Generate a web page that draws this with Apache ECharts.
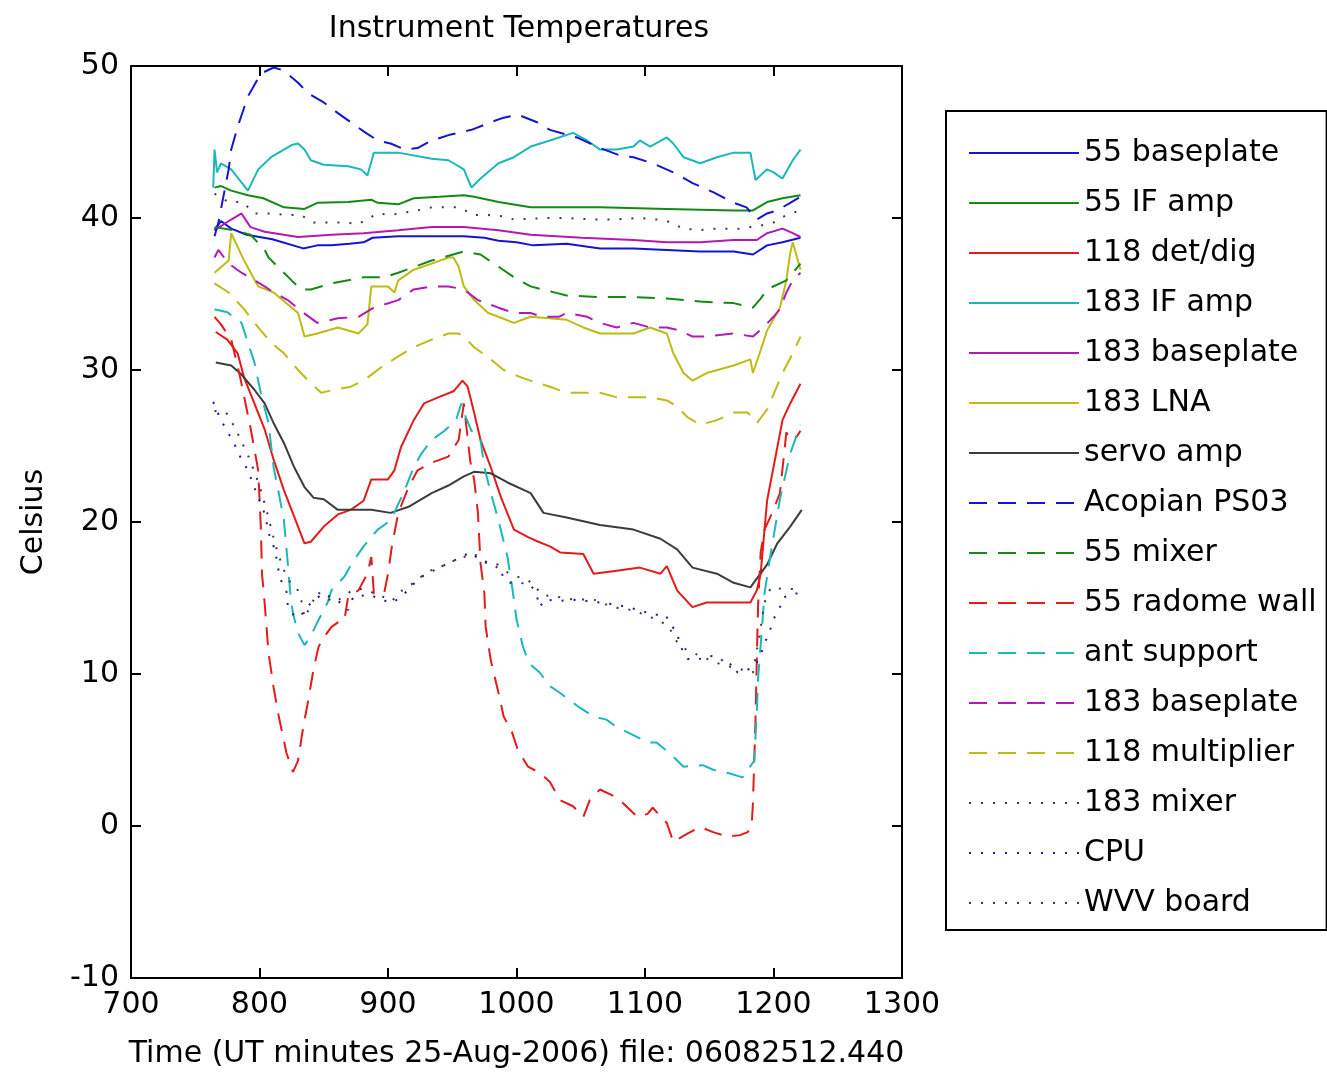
<!DOCTYPE html>
<html>
<head>
<meta charset="utf-8">
<title>Instrument Temperatures</title>
<script src="https://cdn.jsdelivr.net/npm/echarts@6/dist/echarts.min.js"></script>
<style>
  html, body { margin: 0; padding: 0; background: #fff; }
  #chart { width: 1327px; height: 1076px; }
</style>
</head>
<body>
<div id="chart"></div>
<script>
// Temperature logs, [UT minute, degrees C]
const baseplate55 = [[765,39.2],[770,39.8],[778,39.3],[790,38.9],[810,38.6],[834,38.0],[845,38.2],[856,38.2],[870,38.3],[881,38.4],[888,38.7],[908,38.8],[934,38.8],[959,38.8],[975,38.7],[986,38.5],[1000,38.4],[1013,38.2],[1039,38.3],[1065,38.0],[1091,38.0],[1117,37.9],[1143,37.8],[1169,37.8],[1184,37.6],[1195,38.2],[1207,38.4],[1221,38.7]];
const ifAmp55 = [[765,42.0],[770,42.1],[778,41.8],[791,41.5],[803,41.3],[819,40.7],[835,40.6],[845,41.0],[869,41.05],[887,41.2],[892,41.0],[908,40.9],[920,41.3],[940,41.4],[959,41.5],[967,41.4],[986,41.05],[1011,40.7],[1039,40.7],[1065,40.7],[1117,40.6],[1169,40.5],[1184,40.5],[1195,41.05],[1207,41.3],[1221,41.5]];
const detDig118 = [[766,32.5],[775,32.0],[783,31.1],[788,29.5],[796,27.8],[804,26.1],[811,24.1],[819,22.1],[830,19.7],[835,18.6],[840,18.7],[850,19.7],[861,20.5],[871,20.8],[881,21.4],[887,22.8],[900,22.8],[905,23.4],[910,24.9],[920,26.7],[928,27.8],[939,28.2],[951,28.6],[958,29.3],[962,28.9],[967,27.2],[972,25.4],[980,23.6],[988,21.6],[998,19.5],[1009,19.0],[1017,18.7],[1026,18.4],[1034,18.0],[1052,17.9],[1060,16.6],[1078,16.8],[1096,17.0],[1112,16.6],[1117,17.1],[1125,15.5],[1127,15.3],[1137,14.4],[1148,14.7],[1169,14.7],[1182,14.7],[1187,15.5],[1190,16.6],[1195,21.4],[1200,23.6],[1207,26.7],[1213,27.8],[1221,29.1]];
const ifAmp183 = [[764,42.0],[765,44.5],[767,43.0],[770,43.6],[778,43.2],[791,41.8],[799,43.2],[809,44.0],[825,44.8],[830,44.9],[835,44.5],[840,43.8],[850,43.5],[869,43.4],[879,43.2],[884,42.8],[889,44.3],[908,44.3],[934,43.9],[947,43.8],[959,43.2],[965,42.0],[972,42.6],[986,43.6],[998,44.0],[1011,44.7],[1026,45.1],[1044,45.6],[1055,45.1],[1065,44.5],[1078,44.5],[1091,44.7],[1096,45.1],[1104,44.7],[1117,45.3],[1122,44.9],[1130,44.0],[1143,43.6],[1156,44.0],[1169,44.3],[1182,44.3],[1186,42.5],[1195,43.2],[1200,43.0],[1207,42.6],[1215,43.8],[1221,44.5]];
const baseplate183 = [[765,39.2],[778,39.9],[786,40.3],[793,39.4],[804,39.1],[830,38.75],[856,38.9],[881,39.0],[908,39.2],[934,39.4],[959,39.4],[986,39.2],[1011,38.9],[1051,38.7],[1091,38.55],[1117,38.4],[1143,38.4],[1169,38.55],[1187,38.55],[1195,39.0],[1207,39.3],[1215,39.0],[1221,38.75]];
const lna183 = [[765,36.4],[776,37.2],[778,39.0],[783,38.1],[788,37.2],[799,35.5],[811,35.1],[830,33.75],[835,32.2],[845,32.4],[861,32.8],[877,32.4],[884,33.0],[887,35.5],[900,35.5],[905,35.1],[908,35.9],[920,36.6],[934,37.0],[947,37.4],[951,37.4],[955,36.8],[959,35.5],[967,34.6],[978,33.75],[986,33.5],[998,33.1],[1011,33.5],[1039,33.3],[1052,32.8],[1065,32.4],[1091,32.4],[1104,32.8],[1117,32.4],[1122,31.1],[1130,29.8],[1137,29.3],[1148,29.8],[1169,30.3],[1182,30.7],[1184,29.8],[1190,31.3],[1195,32.6],[1205,34.1],[1210,35.9],[1213,37.7],[1215,38.4],[1221,36.6]];
const servoAmp = [[766,30.5],[778,30.3],[786,29.7],[796,28.7],[804,27.8],[811,26.5],[819,25.2],[827,23.6],[835,22.3],[842,21.6],[850,21.5],[861,20.8],[877,20.8],[887,20.8],[902,20.6],[916,21.0],[934,21.9],[947,22.4],[959,23.0],[967,23.3],[980,23.2],[993,22.6],[1011,21.9],[1021,20.6],[1039,20.3],[1065,19.8],[1091,19.5],[1112,18.9],[1125,18.2],[1137,17.0],[1156,16.6],[1169,16.0],[1182,15.7],[1195,17.2],[1203,18.6],[1213,19.7],[1222,20.8]];
const acopianPS03 = [[765,38.8],[768,39.7],[776,43.2],[778,44.5],[783,46.0],[791,48.0],[801,49.5],[811,49.9],[819,49.7],[830,48.9],[838,48.2],[850,47.6],[861,46.9],[871,46.3],[881,45.7],[892,45.1],[902,44.9],[913,44.5],[923,44.6],[934,45.1],[949,45.5],[965,45.8],[980,46.3],[990,46.6],[1001,46.8],[1016,46.3],[1026,45.8],[1047,45.3],[1065,44.6],[1081,44.1],[1091,44.0],[1106,43.6],[1122,43.0],[1137,42.3],[1153,41.7],[1169,41.0],[1179,40.7],[1187,39.9],[1195,40.3],[1203,40.5],[1213,41.0],[1221,41.4]];
const mixer55 = [[765,39.4],[780,39.2],[793,38.9],[804,37.9],[807,37.4],[819,36.4],[832,35.3],[840,35.3],[856,35.7],[881,36.1],[897,36.1],[908,36.4],[934,37.2],[959,37.8],[972,37.6],[986,36.8],[998,36.1],[1011,35.5],[1039,34.9],[1065,34.8],[1091,34.8],[1117,34.7],[1143,34.5],[1169,34.4],[1184,34.1],[1190,34.7],[1195,35.3],[1210,35.9],[1221,37.0]];
const radomeWall55 = [[765,33.5],[770,33.0],[778,32.0],[785,29.5],[793,26.2],[799,23.4],[801,19.7],[802,16.5],[803,15.7],[805,13.6],[807,11.4],[811,9.1],[815,7.2],[821,4.8],[826,3.55],[830,4.3],[834,6.5],[838,8.3],[842,10.3],[846,11.8],[850,12.4],[856,13.1],[861,13.4],[866,13.5],[869,15.1],[877,15.5],[884,16.6],[887,17.7],[889,15.3],[897,15.3],[900,16.6],[903,18.4],[908,20.6],[916,22.3],[923,23.4],[934,23.9],[947,24.3],[955,25.4],[959,27.8],[964,24.0],[967,22.8],[970,20.6],[972,17.3],[975,15.3],[976,13.1],[980,10.9],[986,8.75],[990,7.2],[996,6.3],[1001,5.0],[1009,3.9],[1018,3.5],[1026,2.9],[1034,1.7],[1044,1.3],[1052,0.6],[1057,1.7],[1065,2.4],[1075,2.0],[1083,1.5],[1094,0.6],[1102,0.8],[1106,1.2],[1117,0.2],[1122,-1.05],[1133,-0.5],[1143,-0.07],[1153,-0.4],[1164,-0.7],[1174,-0.6],[1180,-0.4],[1183,0.0],[1184,1.5],[1186,7.0],[1187,11.0],[1188,14.5],[1190,18.0],[1193,19.5],[1199,20.6],[1205,21.9],[1210,25.9],[1213,25.4],[1218,25.6],[1221,26.0]];
const antSupport = [[765,34.0],[775,33.8],[786,33.1],[791,31.8],[796,30.5],[801,28.5],[807,26.5],[811,23.6],[815,21.9],[819,20.1],[822,17.3],[824,15.3],[826,14.0],[830,12.7],[835,11.9],[840,12.5],[845,13.4],[853,14.7],[856,15.5],[866,16.4],[872,17.3],[881,18.4],[892,19.5],[902,20.1],[912,21.9],[920,23.6],[926,24.5],[934,25.4],[944,26.0],[953,26.7],[957,27.8],[959,27.2],[965,26.0],[972,25.4],[975,23.6],[980,21.9],[986,20.1],[993,17.7],[997,15.5],[1000,13.6],[1005,11.8],[1010,10.7],[1018,10.1],[1026,9.2],[1034,8.75],[1041,8.3],[1049,7.8],[1060,7.2],[1070,7.0],[1078,6.5],[1088,6.1],[1102,5.5],[1109,5.5],[1119,4.8],[1130,3.9],[1145,4.0],[1153,3.7],[1164,3.5],[1176,3.2],[1185,4.3],[1187,7.5],[1188,9.7],[1191,13.0],[1193,15.3],[1197,17.5],[1205,21.5],[1213,24.5],[1221,26.4]];
const baseplate183b = [[765,37.4],[768,37.9],[776,37.0],[786,36.4],[804,35.5],[811,35.1],[822,34.6],[832,33.9],[845,33.1],[861,33.4],[877,33.5],[889,34.1],[908,34.6],[920,35.3],[934,35.5],[947,35.5],[959,35.3],[970,34.6],[986,34.1],[998,33.75],[1011,33.75],[1020,33.5],[1033,33.5],[1039,33.75],[1055,33.5],[1065,33.1],[1078,32.8],[1091,33.1],[1104,32.8],[1117,32.8],[1127,32.6],[1137,32.2],[1148,32.2],[1169,32.4],[1184,32.2],[1192,32.8],[1200,33.5],[1205,34.0],[1210,35.1],[1215,35.9],[1221,36.4]];
const multiplier118 = [[765,35.7],[776,35.1],[788,34.0],[799,32.8],[809,31.8],[819,31.1],[830,30.0],[838,29.3],[848,28.5],[858,28.7],[871,28.9],[881,29.3],[895,30.2],[908,30.9],[920,31.5],[934,32.0],[947,32.4],[955,32.4],[959,32.2],[967,31.5],[980,30.7],[990,30.0],[1004,29.5],[1011,29.3],[1026,28.9],[1039,28.5],[1052,28.5],[1065,28.5],[1078,28.2],[1091,28.2],[1104,28.2],[1117,28.0],[1125,27.6],[1133,26.9],[1143,26.4],[1156,26.7],[1169,27.2],[1180,27.2],[1187,26.5],[1195,27.4],[1200,28.4],[1207,29.8],[1215,31.1],[1221,32.2]];
const mixer183 = [[765,41.6],[776,41.05],[787,41.05],[796,40.3],[807,40.3],[822,40.2],[832,40.2],[842,39.7],[856,39.7],[866,39.7],[877,39.6],[892,40.3],[902,40.2],[916,40.4],[923,40.5],[934,40.7],[944,40.7],[955,40.7],[967,40.2],[978,40.2],[990,40.1],[998,39.9],[1024,40.0],[1039,40.0],[1060,39.9],[1075,39.9],[1096,40.0],[1109,39.9],[1117,39.8],[1130,39.3],[1143,39.2],[1153,39.3],[1164,39.3],[1174,39.3],[1190,39.5],[1200,39.7],[1210,40.2],[1221,40.5]];
const cpu = [[764,27.9],[770,26.7],[776,25.8],[780,25.2],[785,24.3],[791,23.4],[799,21.6],[803,20.8],[806,19.8],[808,19.0],[812,18.2],[814,17.2],[816,16.3],[821,15.4],[822,14.5],[828,13.7],[834,14.0],[841,14.8],[850,15.3],[858,14.9],[863,14.7],[869,14.2],[873,15.1],[887,15.2],[893,14.9],[904,14.7],[913,15.3],[922,16.1],[928,16.5],[940,17.0],[950,17.4],[959,17.8],[965,18.0],[971,17.5],[980,17.2],[986,17.2],[990,16.3],[995,16.0],[1002,16.0],[1011,15.9],[1016,15.1],[1018,14.4],[1022,14.9],[1033,14.8],[1043,14.9],[1055,14.8],[1065,14.7],[1075,14.6],[1086,14.4],[1096,14.2],[1106,13.9],[1116,13.9],[1120,13.2],[1125,12.8],[1127,11.9],[1133,11.0],[1138,10.9],[1143,11.0],[1149,11.2],[1158,11.1],[1164,10.5],[1168,10.7],[1172,10.1],[1180,10.3],[1184,10.4],[1189,11.0],[1193,12.0],[1197,12.8],[1200,13.6],[1205,14.4],[1207,15.0],[1215,15.3],[1220,15.3]];
const wvvBoard = [[765,27.3],[774,27.2],[781,26.2],[786,25.3],[792,24.2],[800,22.4],[806,20.6],[812,18.6],[818,17.0],[824,16.0],[829,15.7],[833,14.7],[835,13.7],[840,14.5],[845,15.4],[858,14.7],[862,14.9],[872,15.5],[880,15.6],[893,15.2],[903,14.8],[911,15.5],[920,16.0],[930,16.7],[945,17.2],[955,17.6],[967,17.9],[978,17.3],[990,16.8],[1000,16.4],[1006,16.3],[1012,16.0],[1020,15.2],[1030,15.1],[1044,14.9],[1060,14.9],[1075,14.4],[1090,14.2],[1103,13.8],[1118,13.2],[1124,12.2],[1130,11.7],[1145,11.1],[1160,10.6],[1175,10.3],[1184,10.1],[1189,12.5],[1193,14.7],[1198,15.7],[1206,15.6],[1215,15.6],[1222,15.4]];

// Legend labels in plotting order
const labels = ['55 baseplate','55 IF amp','118 det/dig','183 IF amp','183 baseplate','183 LNA','servo amp',
  'Acopian PS03','55 mixer','55 radome wall','ant support','183 baseplate','118 multiplier',
  '183 mixer','CPU','WVV board'];
const dataSets = [baseplate55, ifAmp55, detDig118, ifAmp183, baseplate183, lna183, servoAmp,
  acopianPS03, mixer55, radomeWall55, antSupport, baseplate183b, multiplier118,
  mixer183, cpu, wvvBoard];

const xTicks = { min: 700, max: 1300, step: 100 };
const yTicks = { min: -10, max: 50, step: 10 };

// Colour cycle and line styles: solid, dashed, dotted
const palette = {
  b: '#1414d2', g: '#138a13', r: '#e31b1b', c: '#1cb8b8',
  m: '#b31ab3', y: '#bcbc14', k: '#3c3c3c', n: '#1a1a9a'
};
const specs = ['b-','g-','r-','c-','m-','y-','k-','b--','g--','r--','c--','m--','y--','k:','n:','k:'];
const dashes = { '-': 'solid', '--': [18, 11], ':': [2, 10] };

const FONT = 'DejaVu Sans';

const series = dataSets.map((d, i) => {
  const spec = specs[i];
  const col = palette[spec[0]];
  const style = spec.slice(1);
  return {
    // second "183 baseplate" gets a trailing space so the legend keeps both entries
    name: labels.slice(0, i).includes(labels[i]) ? labels[i] + ' ' : labels[i],
    type: 'line',
    data: d,
    showSymbol: false,
    symbol: 'none',
    color: col,
    lineStyle: { color: col, width: 2, type: dashes[style] },
    emphasis: { disabled: true },
    animation: false,
    z: 2 + i * 0.01
  };
});

const axisCommon = {
  type: 'value',
  axisLine: { show: true, onZero: false, lineStyle: { color: '#000', width: 2 } },
  axisTick: { show: true, inside: true, length: 10, lineStyle: { color: '#000', width: 2 } },
  splitLine: { show: false }
};
const plainNumber = v => String(v);

const chart = echarts.init(document.getElementById('chart'), null, { renderer: 'canvas' });
chart.setOption({
  backgroundColor: '#fff',
  animation: false,
  title: {
    text: 'Instrument Temperatures',
    left: 514, top: 9, textAlign: 'center',
    textStyle: { fontFamily: FONT, fontSize: 30, fontWeight: 'normal', color: '#000' }
  },
  grid: { left: 131, top: 66, width: 771, height: 912, containLabel: false },
  legend: {
    orient: 'vertical',
    left: 946, top: 111,
    padding: [27, 10, 12, 22],
    itemGap: 20,
    itemWidth: 110,
    itemHeight: 30,
    borderColor: '#000', borderWidth: 2,
    backgroundColor: '#fff',
    selectedMode: false,
    // line sample only, no marker
    itemStyle: { opacity: 0 },
    formatter: name => name.trim(),
    textStyle: { fontFamily: FONT, fontSize: 30, color: '#000' },
    data: series.map(s => s.name)
  },
  xAxis: [
    Object.assign({}, axisCommon, {
      position: 'bottom', min: xTicks.min, max: xTicks.max, interval: xTicks.step,
      name: 'Time (UT minutes 25-Aug-2006) file: 06082512.440',
      nameLocation: 'middle', nameGap: 61,
      nameTextStyle: { fontFamily: FONT, fontSize: 30, color: '#000' },
      axisLabel: { fontFamily: FONT, fontSize: 30, color: '#000', margin: 12, formatter: plainNumber }
    }),
    Object.assign({}, axisCommon, {
      position: 'top', min: xTicks.min, max: xTicks.max, interval: xTicks.step,
      axisLabel: { show: false }
    })
  ],
  yAxis: [
    Object.assign({}, axisCommon, {
      position: 'left', min: yTicks.min, max: yTicks.max, interval: yTicks.step,
      name: 'Celsius', nameLocation: 'middle', nameGap: 82, nameRotate: 90,
      nameTextStyle: { fontFamily: FONT, fontSize: 30, color: '#000' },
      axisLabel: { fontFamily: FONT, fontSize: 30, color: '#000', margin: 12, formatter: plainNumber }
    }),
    Object.assign({}, axisCommon, {
      position: 'right', min: yTicks.min, max: yTicks.max, interval: yTicks.step,
      axisLabel: { show: false }
    })
  ],
  series: series
});
</script>
</body>
</html>
